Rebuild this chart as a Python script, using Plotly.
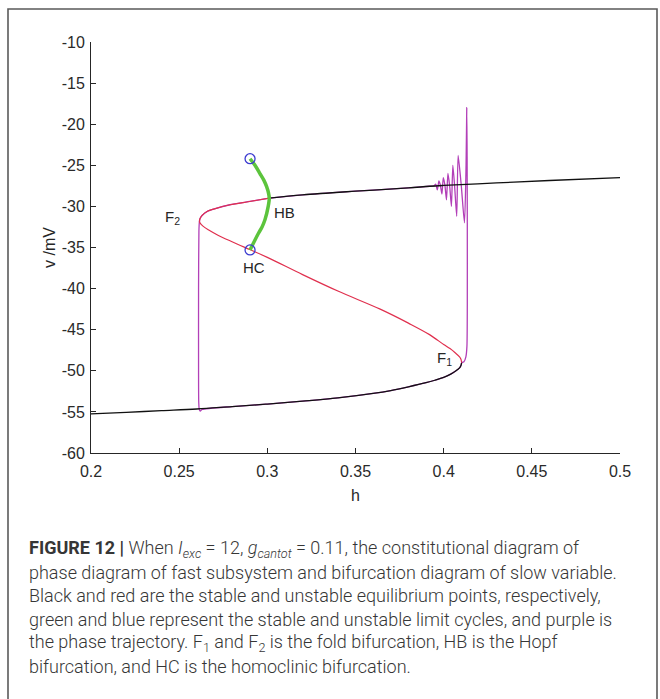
import plotly.graph_objects as go

# ---------------- data ----------------
# stable lower equilibrium branch (black), h increasing to fold F1
h_low = [0.200, 0.220, 0.240, 0.260, 0.280, 0.300, 0.320, 0.340, 0.360, 0.370, 0.380,
         0.390, 0.395, 0.400, 0.404, 0.407, 0.409, 0.4098, 0.4102]
v_low = [-55.25, -55.05, -54.85, -54.65, -54.35, -54.05, -53.70, -53.30, -52.75, -52.40, -51.95,
         -51.45, -51.15, -50.80, -50.40, -50.00, -49.65, -49.35, -49.00]

# unstable middle branch (red), from F1 back to F2
h_mid = [0.4102, 0.4098, 0.4090, 0.4065, 0.4036, 0.4000, 0.3920, 0.3800, 0.3640, 0.3400,
         0.3200, 0.3000, 0.2900, 0.2800, 0.2720, 0.2670, 0.2635, 0.2618, 0.2615]
v_mid = [-49.00, -48.60, -48.30, -47.80, -47.30, -46.80, -45.60, -44.20, -42.50, -40.30,
         -38.30, -36.20, -35.25, -34.30, -33.50, -32.90, -32.40, -32.00, -31.80]

# unstable upper branch (red), from F2 to HB
h_upr = [0.2615, 0.2618, 0.2630, 0.2660, 0.2700, 0.2788, 0.2900, 0.3011]
v_upr = [-31.80, -31.50, -31.10, -30.60, -30.30, -29.80, -29.40, -29.00]

# stable upper branch (black), from HB to h = 0.5
h_ups = [0.3011, 0.3200, 0.3500, 0.3800, 0.3920, 0.4000, 0.4300, 0.4600, 0.5000]
v_ups = [-29.00, -28.60, -28.15, -27.75, -27.55, -27.45, -27.15, -26.85, -26.50]

# limit-cycle amplitude (green), between the two circles, through HB
h_lc = [0.2902, 0.2930, 0.2958, 0.2980, 0.2996, 0.3007, 0.3011, 0.3005, 0.2987, 0.2970,
        0.2949, 0.2925, 0.2902]
v_lc = [-24.2, -25.0, -26.0, -26.8, -27.6, -28.4, -29.0, -30.0, -31.6, -32.5,
        -33.3, -34.3, -35.3]

# end points of the limit-cycle curve (blue circles)
h_pts = [0.2902, 0.2902]
v_pts = [-24.2, -35.3]

# phase trajectory (purple) pieces
h_drop = [0.2615, 0.2612, 0.2610, 0.2610, 0.2611, 0.2614, 0.2620, 0.2630]   # fall at F2
v_drop = [-31.80, -33.00, -40.00, -50.00, -53.80, -54.70, -54.90, -54.70]
h_jump = [0.4102, 0.4115, 0.4126, 0.4132, 0.4134, 0.4134, 0.4133, 0.4131,   # jump + spikes
          0.4127, 0.4118, 0.4100, 0.4082, 0.4074, 0.4062, 0.4052, 0.4044, 0.4034,
          0.4024, 0.4016, 0.4007, 0.3998, 0.3990, 0.3981, 0.3973, 0.3964, 0.3955, 0.3945]
v_jump = [-49.00, -48.90, -48.30, -47.00, -42.00, -32.00, -24.00, -18.00,
          -25.00, -32.00, -27.50, -23.80, -31.20, -27.50, -25.00, -30.00, -27.50,
          -26.00, -29.20, -27.40, -26.50, -28.50, -27.40, -26.90, -28.00, -27.30, -27.50]

# axis ticks
x_ticks = [0.2, 0.25, 0.3, 0.35, 0.4, 0.45, 0.5]
x_tick_text = ["0.2", "0.25", "0.3", "0.35", "0.4", "0.45", "0.5"]
y_ticks = [-60, -55, -50, -45, -40, -35, -30, -25, -20, -15, -10]
y_tick_text = ["-60", "-55", "-50", "-45", "-40", "-35", "-30", "-25", "-20", "-15", "-10"]

caption_lines = [
    "<b>FIGURE 12 |</b> When <i>I<sub>exc</sub></i> = 12, <i>g<sub>cantot</sub></i> = 0.11, the constitutional diagram of",
    "phase diagram of fast subsystem and bifurcation diagram of slow variable.",
    "Black and red are the stable and unstable equilibrium points, respectively,",
    "green and blue represent the stable and unstable limit cycles, and purple is",
    "the phase trajectory. F<sub>1</sub> and F<sub>2</sub> is the fold bifurcation, HB is the Hopf",
    "bifurcation, and HC is the homoclinic bifurcation.",
]

# ---------------- figure ----------------
W, H = 660, 699
L, R, T, B = 91, 40, 42, 246
plot_h = H - T - B

# trajectory assembled from the pieces above (upper branch followed leftwards)
h_up_back = [h for h in reversed(h_ups) if h < 0.3945]
v_up_back = [v for h, v in zip(reversed(h_ups), reversed(v_ups)) if h < 0.3945]
traj_h = h_drop + [h for h in h_low if h > 0.2630] + h_jump + h_up_back + list(reversed(h_upr))
traj_v = v_drop + [v for h, v in zip(h_low, v_low) if h > 0.2630] + v_jump + v_up_back + list(reversed(v_upr))

fig = go.Figure()
purple = "#b23fb8"
fig.add_trace(go.Scatter(x=traj_h, y=traj_v, mode="lines",
                         line=dict(color=purple, width=1.3, shape="spline", smoothing=0.6)))
fig.add_trace(go.Scatter(x=h_low, y=v_low, mode="lines",
                         line=dict(color="#111111", width=1.3, shape="spline")))
fig.add_trace(go.Scatter(x=h_ups, y=v_ups, mode="lines",
                         line=dict(color="#111111", width=1.3, shape="spline")))
fig.add_trace(go.Scatter(x=h_mid, y=v_mid, mode="lines",
                         line=dict(color="#e0304e", width=1.2, shape="spline")))
fig.add_trace(go.Scatter(x=h_upr, y=v_upr, mode="lines",
                         line=dict(color="#e0304e", width=1.2, shape="spline")))
fig.add_trace(go.Scatter(x=h_lc, y=v_lc, mode="lines",
                         line=dict(color="#5cc43c", width=3.5, shape="spline")))
fig.add_trace(go.Scatter(x=h_pts, y=v_pts, mode="markers",
                         marker=dict(symbol="circle-open", size=10, color="#3b3bd0",
                                     line=dict(width=1.3, color="#3b3bd0"))))

lab_font = dict(family="Liberation Sans, Arial, sans-serif", size=15, color="#262626")
for txt, hx, vy in [("F<sub>2</sub>", 0.2460, -31.3), ("HB", 0.3095, -30.7),
                    ("HC", 0.2925, -37.4), ("F<sub>1</sub>", 0.4005, -48.5)]:
    fig.add_annotation(x=hx, y=vy, xref="x", yref="y", text=txt, showarrow=False,
                       font=lab_font, xanchor="center", yanchor="middle")

cap_font = dict(family="Roboto, Liberation Sans, sans-serif", size=18, color="#363636", weight=300)
for i, line in enumerate(caption_lines):
    py = 549 + i * 23.4
    fig.add_annotation(x=(27 - L) / (W - L - R), y=(H - B - py) / plot_h,
                       xref="paper", yref="paper", text=line, showarrow=False,
                       xanchor="left", yanchor="middle", align="left", font=cap_font)

# outer frame
fig.add_shape(type="rect", xref="paper", yref="paper",
              x0=(8 - L) / (W - L - R), x1=(657 - L) / (W - L - R),
              y0=(H - B - 9) / plot_h, y1=(H - B - 720) / plot_h,
              line=dict(color="#5a5a5a", width=1.6), fillcolor="rgba(0,0,0,0)", layer="below")

tick_font = dict(family="Liberation Sans, Arial, sans-serif", size=16, color="#2a2a2a")
axis_common = dict(showline=True, linecolor="#262626", linewidth=1, mirror=False,
                   ticks="inside", ticklen=5, tickcolor="#262626", showgrid=False,
                   zeroline=False, tickfont=tick_font)
fig.update_xaxes(range=[0.2, 0.5], tickvals=x_ticks, ticktext=x_tick_text,
                 ticklabelstandoff=4,
                 title=dict(text="h", font=dict(family="Liberation Sans, Arial, sans-serif",
                                                size=16, color="#262626"), standoff=10),
                 **axis_common)
fig.update_yaxes(range=[-60, -10], tickvals=y_ticks, ticktext=y_tick_text,
                 ticklabelstandoff=2,
                 title=dict(text="v /mV", font=dict(family="Liberation Sans, Arial, sans-serif",
                                                    size=16, color="#262626"), standoff=2),
                 **axis_common)

fig.update_layout(width=W, height=H, margin=dict(l=L, r=R, t=T, b=B, pad=0),
                  paper_bgcolor="white", plot_bgcolor="white", showlegend=False)

fig.write_html("out.html")
